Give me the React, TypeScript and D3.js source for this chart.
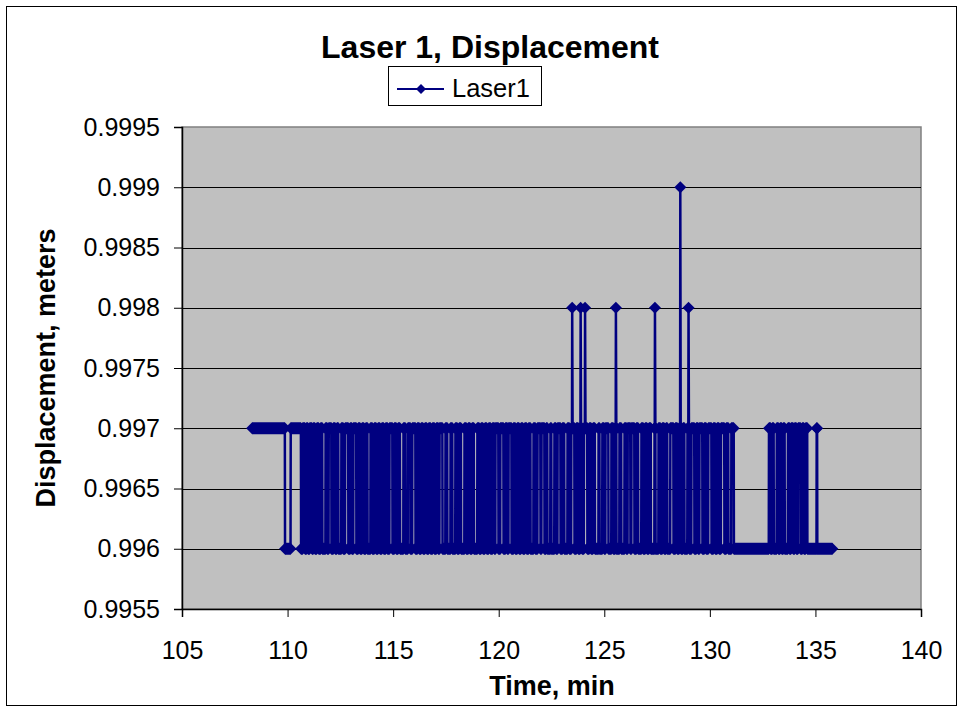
import React, { useRef, useEffect } from 'react';
import * as d3 from 'd3';

// Laser reading: starts high, flips between the two levels at each switch time
const startTime = 108.32;
const endTime = 135.8;
const highLevel = 0.997;
const lowLevel = 0.996;
const switchTimes = [
  109.88, 110.15, 110.64, 110.72, 110.83, 110.9, 110.97, 111.05, 111.16, 111.22,
  111.3, 111.39, 111.48, 111.57, 111.65, 111.8, 111.88, 111.95, 112.08, 112.17,
  112.26, 112.34, 112.41, 112.55, 112.64, 112.73, 112.88, 112.97, 113.05, 113.12,
  113.26, 113.35, 113.44, 113.53, 113.62, 113.71, 113.79, 113.93, 114.02, 114.11,
  114.2, 114.29, 114.38, 114.47, 114.56, 114.65, 114.74, 114.83, 114.97, 115.06,
  115.15, 115.24, 115.33, 115.49, 115.58, 115.7, 115.82, 115.91, 116.06, 116.15,
  116.24, 116.33, 116.42, 116.51, 116.6, 116.69, 116.78, 116.87, 116.96, 117.05,
  117.14, 117.2, 117.34, 117.48, 117.57, 117.72, 117.81, 117.95, 118.04, 118.13,
  118.22, 118.38, 118.47, 118.56, 118.65, 118.74, 118.83, 118.99, 119.08, 119.17,
  119.26, 119.35, 119.44, 119.53, 119.62, 119.71, 119.8, 119.85, 119.99, 120.08,
  120.23, 120.32, 120.41, 120.47, 120.61, 120.7, 120.79, 120.88, 120.97, 121.06,
  121.15, 121.24, 121.33, 121.42, 121.51, 121.65, 121.74, 121.84, 121.98, 122.03,
  122.17, 122.25, 122.31, 122.45, 122.5, 122.64, 122.72, 122.79, 122.93, 123.02,
  123.11, 123.26, 123.35, 123.44, 123.59, 123.68, 123.77, 123.86, 123.95, 124.04,
  124.2, 124.29, 124.38, 124.47, 124.56, 124.73, 124.78, 124.91, 125.0, 125.06,
  125.2, 125.34, 125.43, 125.52, 125.58, 125.72, 125.81, 125.96, 126.05, 126.11,
  126.24, 126.29, 126.43, 126.52, 126.61, 126.76, 126.85, 126.94, 127.03, 127.12,
  127.21, 127.38, 127.43, 127.57, 127.66, 127.75, 127.84, 127.93, 127.99, 128.13,
  128.28, 128.37, 128.46, 128.55, 128.64, 128.73, 128.8, 128.94, 129.03, 129.13,
  129.27, 129.36, 129.45, 129.51, 129.65, 129.74, 129.83, 129.93, 130.08, 130.17,
  130.26, 130.35, 130.44, 130.53, 130.69, 130.78, 130.88, 131.02, 131.14,
  132.8, 132.88, 132.96, 133.03, 133.17, 133.25, 133.33, 133.41, 133.48, 133.55,
  133.7, 133.78, 133.85, 133.95, 134.02, 134.1, 134.18, 134.3, 134.38, 134.46,
  134.54, 134.62, 135.06, 135.09,
];
const spikeTimes = [123.48, 123.88, 124.09, 125.55, 127.4, 128.6, 128.99];
const spikeValues = [0.998, 0.998, 0.998, 0.998, 0.998, 0.999, 0.998];

const xTicks = [105, 110, 115, 120, 125, 130, 135, 140];
const yTicks = [0.9955, 0.996, 0.9965, 0.997, 0.9975, 0.998, 0.9985, 0.999, 0.9995];
const yTickLabels = ['0.9955', '0.996', '0.9965', '0.997', '0.9975', '0.998', '0.9985', '0.999', '0.9995'];

const navy = '#000080';
const font = '"Liberation Sans", Arial, Helvetica, sans-serif';
const diamond = 'M0,-6L6,0L0,6L-6,0Z';

const LaserChart = () => {
  const svgRef = useRef(null);
  const width = 960;
  const height = 709;
  const plot = { left: 182, right: 921, top: 127, bottom: 609 };

  useEffect(() => {
    const svg = d3.select(svgRef.current);
    svg.selectAll('*').remove();

    const x = d3.scaleLinear().domain([105, 140]).range([plot.left, plot.right]);
    const y = d3.scaleLinear().domain([0.9955, 0.9995]).range([plot.bottom, plot.top]);

    // runs of equal readings
    const starts = [startTime, ...switchTimes];
    const runs = starts.map((s, i) => ({
      start: s,
      end: i < starts.length - 1 ? starts[i + 1] - 0.01 : endTime,
      level: i % 2 === 0 ? highLevel : lowLevel,
    }));

    const points: { t: number; v: number }[] = [];
    runs.forEach(r => {
      points.push({ t: r.start, v: r.level });
      if (r.end > r.start) points.push({ t: r.end, v: r.level });
    });
    spikeTimes.forEach((t, i) => {
      const run = runs.find(r => t >= r.start && t <= r.end + 0.01);
      const lvl = run ? run.level : highLevel;
      points.push({ t: t - 0.01, v: lvl });
      points.push({ t, v: spikeValues[i] });
      points.push({ t: t + 0.02, v: lvl });
    });
    points.sort((a, b) => a.t - b.t);

    // outer frame
    svg.append('rect')
      .attr('x', 6.5).attr('y', 6.5)
      .attr('width', 950).attr('height', 699)
      .attr('fill', '#fff').attr('stroke', '#000').attr('stroke-width', 1);

    // plot area
    svg.append('rect')
      .attr('x', plot.left).attr('y', plot.top)
      .attr('width', plot.right - plot.left).attr('height', plot.bottom - plot.top)
      .attr('fill', '#c0c0c0').attr('stroke', '#808080').attr('stroke-width', 1.5);

    // gridlines
    svg.append('g')
      .selectAll('line')
      .data(yTicks.slice(1, -1))
      .enter()
      .append('line')
      .attr('x1', plot.left).attr('x2', plot.right)
      .attr('y1', d => Math.round(y(d)) + 0.5).attr('y2', d => Math.round(y(d)) + 0.5)
      .attr('stroke', '#000').attr('stroke-width', 1);

    // y axis
    const yAxis = svg.append('g')
      .attr('transform', `translate(${plot.left},0)`)
      .call(d3.axisLeft(y).tickValues(yTicks).tickSize(8).tickPadding(14)
        .tickFormat((_, i) => yTickLabels[i]));
    yAxis.select('.domain').attr('stroke', '#000').attr('stroke-width', 1.5);
    yAxis.selectAll('text').attr('font-family', font).attr('font-size', 25).attr('fill', '#000');

    // x axis
    const xAxis = svg.append('g')
      .attr('transform', `translate(0,${plot.bottom})`)
      .call(d3.axisBottom(x).tickValues(xTicks).tickSize(8).tickPadding(24)
        .tickFormat(d3.format('d')));
    xAxis.select('.domain').attr('stroke', '#000').attr('stroke-width', 1.5);
    xAxis.selectAll('text').attr('font-family', font).attr('font-size', 25).attr('fill', '#000');

    // series
    const g = svg.append('g');
    g.selectAll('rect.band')
      .data(runs.filter(r => r.end > r.start))
      .enter()
      .append('rect')
      .attr('class', 'band')
      .attr('x', r => x(r.start)).attr('width', r => x(r.end) - x(r.start))
      .attr('y', r => y(r.level) - 6).attr('height', 12)
      .attr('fill', navy);

    const line = d3.line<{ t: number; v: number }>().x(d => x(d.t)).y(d => y(d.v));
    g.append('path')
      .datum(points)
      .attr('d', line)
      .attr('fill', 'none').attr('stroke', navy).attr('stroke-width', 2.5);

    g.selectAll('path.marker')
      .data(points)
      .enter()
      .append('path')
      .attr('class', 'marker')
      .attr('d', diamond)
      .attr('transform', d => `translate(${x(d.t)},${y(d.v)})`)
      .attr('fill', navy);

    // title
    svg.append('text')
      .attr('x', 490).attr('y', 58)
      .attr('text-anchor', 'middle')
      .attr('font-family', font).attr('font-weight', 'bold').attr('font-size', 32)
      .text('Laser 1, Displacement');

    // legend
    const lg = svg.append('g');
    lg.append('rect')
      .attr('x', 388.5).attr('y', 66.5).attr('width', 153).attr('height', 39)
      .attr('fill', '#fff').attr('stroke', '#000').attr('stroke-width', 1);
    lg.append('line')
      .attr('x1', 397).attr('x2', 444).attr('y1', 89).attr('y2', 89)
      .attr('stroke', navy).attr('stroke-width', 2);
    lg.append('path')
      .attr('d', 'M0,-5L5,0L0,5L-5,0Z')
      .attr('transform', 'translate(421,89)')
      .attr('fill', navy);
    lg.append('text')
      .attr('x', 452).attr('y', 97)
      .attr('font-family', font).attr('font-size', 25.5)
      .text('Laser1');

    // axis titles
    svg.append('text')
      .attr('x', 552).attr('y', 695)
      .attr('text-anchor', 'middle')
      .attr('font-family', font).attr('font-weight', 'bold').attr('font-size', 27)
      .text('Time, min');

    svg.append('text')
      .attr('transform', 'translate(55,368) rotate(-90)')
      .attr('text-anchor', 'middle')
      .attr('font-family', font).attr('font-weight', 'bold').attr('font-size', 27)
      .text('Displacement, meters');
  }, []);

  return (
    <svg ref={svgRef} width={width} height={height}
      style={{ position: 'absolute', left: 0, top: 0, display: 'block' }} />
  );
};

export default function App() {
  return <LaserChart />;
}
